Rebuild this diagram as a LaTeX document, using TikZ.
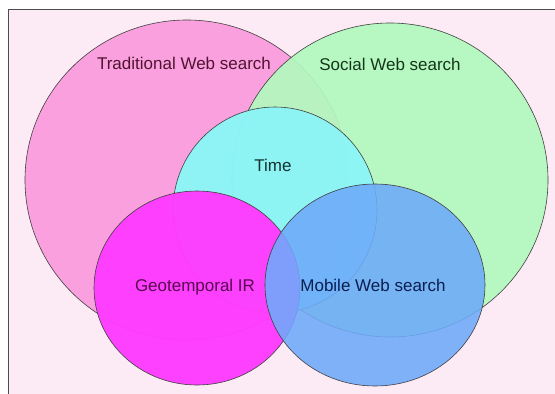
\documentclass[tikz,border=0pt]{standalone}
\usepackage{fontspec}
\setmainfont{Liberation Sans}
\definecolor{backpink}{RGB}{252,234,244}
\definecolor{tradfill}{RGB}{250,160,222}
\definecolor{socialfill}{RGB}{178,250,190}
\definecolor{timefill}{RGB}{140,245,245}
\definecolor{geofill}{RGB}{255,60,255}
\definecolor{mobilefill}{RGB}{110,170,250}
\definecolor{tradtext}{RGB}{80,20,50}
\definecolor{socialtext}{RGB}{20,55,25}
\definecolor{timetext}{RGB}{20,50,50}
\definecolor{geotext}{RGB}{90,10,80}
\definecolor{mobiletext}{RGB}{10,30,80}
\begin{document}
\begin{tikzpicture}[x=1pt,y=-1pt,
        set/.style={draw=black!75,line width=0.6pt},
        setlabel/.style={font=\fontsize{17}{20}\selectfont,inner sep=0pt,anchor=center}]
        %% Frame
        \useasboundingbox (0,0) rectangle (555,394);
        \fill[white] (0,0) rectangle (555,394);
        \fill[backpink] (8,9) rectangle (555,394);
        \draw[black!70,line width=1pt] (8,394) -- (8,9) -- (555,9);
        %% Centres
        \coordinate (T) at (187,180);
        \coordinate (S) at (390,180);
        \coordinate (Ti) at (275,210);
        \coordinate (G) at (197,288);
        \coordinate (M) at (375,285);
        %% Sets
        \draw[set,fill=tradfill] (T) ellipse [x radius=162pt,y radius=160pt];
        \draw[set,fill=socialfill,fill opacity=0.92] (S) ellipse [x radius=158pt,y radius=157pt];
        \draw[set,fill=timefill,fill opacity=0.97] (Ti) ellipse [x radius=102pt,y radius=103pt];
        \draw[set,fill=geofill,fill opacity=0.97] (G) ellipse [x radius=103pt,y radius=97pt];
        \draw[set,fill=mobilefill,fill opacity=0.88] (M) ellipse [x radius=110pt,y radius=101pt];
        %% Labels
        \node[setlabel,text=tradtext] (trad) at (184,63) {Traditional Web search};
        \node[setlabel,text=socialtext] (social) at (390,64) {Social Web search};
        \node[setlabel,text=timetext] (time) at (273,165) {Time};
        \node[setlabel,text=geotext] (geo) at (195,287) {Geotemporal IR};
        \node[setlabel,text=mobiletext] (mobile) at (373,285) {Mobile Web search};
    \end{tikzpicture}
\end{document}
